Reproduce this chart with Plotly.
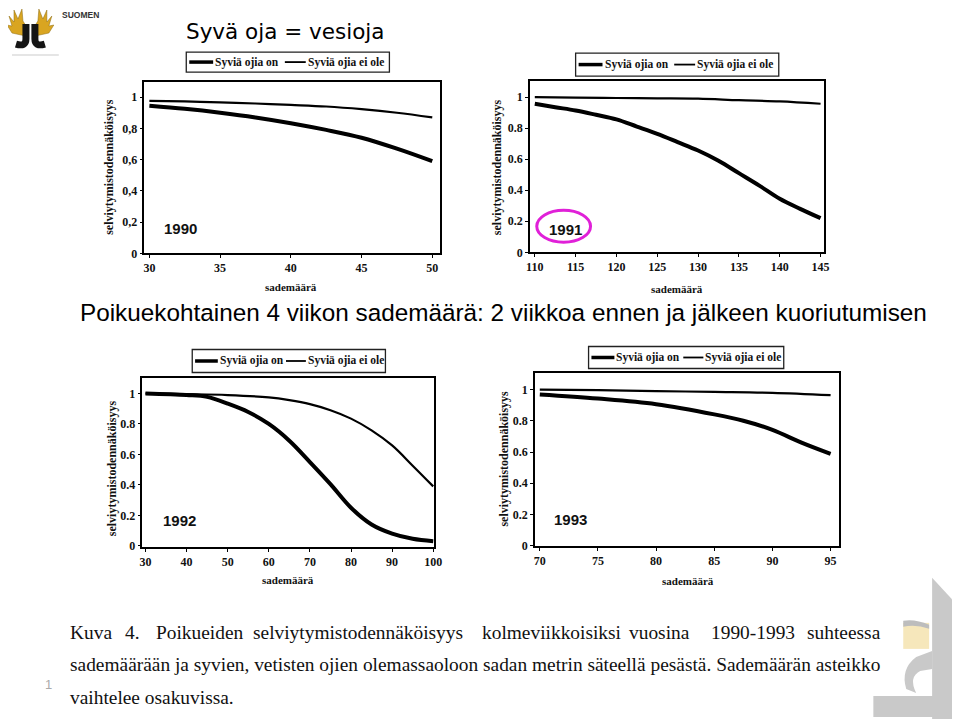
import plotly.graph_objects as go

W, H = 960, 719

# ---------------- data ----------------
legend_names = ["Syviä ojia on", "Syviä ojia ei ole"]
years = ["1990", "1991", "1992", "1993"]

x1990_on = [30, 32.5, 35, 37.5, 40, 42.5, 45, 47.5, 50]
y1990_on = [0.945, 0.925, 0.90, 0.87, 0.833, 0.79, 0.74, 0.67, 0.59]
x1990_ei = [30, 32.5, 35, 37.5, 40, 42.5, 45, 47.5, 50]
y1990_ei = [0.976, 0.972, 0.966, 0.959, 0.95, 0.94, 0.923, 0.90, 0.87]

x1991_on = [110, 112.5, 115, 117.5, 120, 122.5, 125, 127.5, 130, 132.5, 135, 137.5, 140, 142.5, 145]
y1991_on = [0.957, 0.935, 0.914, 0.886, 0.856, 0.81, 0.763, 0.71, 0.656, 0.59, 0.51, 0.43, 0.345, 0.28, 0.22]
x1991_ei = [110, 115, 120, 125, 130, 135, 140, 145]
y1991_ei = [1.0, 0.996, 0.994, 0.992, 0.99, 0.98, 0.972, 0.957]

x1992_on = [30, 40, 45, 50, 55, 60, 65, 70, 75, 80, 85, 90, 95, 100]
y1992_on = [1.0, 0.99, 0.978, 0.934, 0.879, 0.80, 0.69, 0.55, 0.405, 0.25, 0.14, 0.08, 0.046, 0.03]
x1992_ei = [30, 40, 50, 60, 65, 70, 75, 80, 85, 90, 95, 100]
y1992_ei = [1.0, 0.996, 0.99, 0.974, 0.956, 0.93, 0.89, 0.835, 0.758, 0.659, 0.526, 0.39]

x1993_on = [70, 75, 80, 85, 87.5, 90, 92.5, 95]
y1993_on = [0.968, 0.942, 0.906, 0.841, 0.80, 0.742, 0.66, 0.588]
x1993_ei = [70, 75, 80, 85, 90, 95]
y1993_ei = [1.0, 0.996, 0.99, 0.985, 0.979, 0.964]

y_ticks = [0, 0.2, 0.4, 0.6, 0.8, 1]
y_labels_comma = ["0", "0,2", "0,4", "0,6", "0,8", "1"]
y_labels_dot = ["0", "0.2", "0.4", "0.6", "0.8", "1"]
x_ticks_1990 = [30, 35, 40, 45, 50]
x_ticks_1991 = [110, 115, 120, 125, 130, 135, 140, 145]
x_ticks_1992 = [30, 40, 50, 60, 70, 80, 90, 100]
x_ticks_1993 = [70, 75, 80, 85, 90, 95]

x_title = "sademäärä"
y_title = "selviytymistodennäköisyys"
main_title = "Syvä oja = vesioja"
mid_text = "Poikuekohtainen 4 viikon sademäärä: 2 viikkoa ennen ja jälkeen kuoriutumisen"
caption_line1 = ["Kuva", "4.", "Poikueiden", "selviytymistodennäköisyys", "kolmeviikkoisiksi",
                 "vuosina", "1990-1993", "suhteessa"]
caption_line2 = "sademäärään ja syvien, vetisten ojien olemassaoloon sadan metrin säteellä pesästä. Sademäärän asteikko"
caption_line3 = "vaihtelee osakuvissa."

# --------------- helpers (page is drawn at an 8px offset) ---------------
OX, OY = 8, 8
EW, EH = W - OX, H - OY

def px(x):
    return (x - OX) / EW

def py(y):
    return 1 - (y - OY) / EH

def P(x, y):
    return f"{px(x):.5f},{py(y):.5f}"

SERIF = "Liberation Serif"
SANS = "Liberation Sans"

fig = go.Figure()

panels = [
    ("1990", x1990_on, y1990_on, x1990_ei, y1990_ei, (141, 438, 82, 253), [29.65, 50.56], [0, 1.096],
     x_ticks_1990, y_labels_comma, (183, 387, 52, 72), (288, 287), (106, 167), (32.2, 0.16)),
    ("1991", x1991_on, y1991_on, x1991_ei, y1991_ei, (528, 823, 81, 252), [109.39, 145.37], [0, 1.103],
     x_ticks_1991, y_labels_dot, (574, 778, 53, 76), (676, 289), (495, 167), (113.7, 0.148)),
    ("1992", x1992_on, y1992_on, x1992_ei, y1992_ei, (139, 432, 377, 546), [29.27, 100.24], [-0.0066, 1.105],
     x_ticks_1992, y_labels_dot, (189, 383, 349, 372), (285, 579), (108, 468), (38.2, 0.164)),
    ("1993", x1993_on, y1993_on, x1993_ei, y1993_ei, (533, 838, 372, 545), [69.57, 95.68], [0, 1.109],
     x_ticks_1993, y_labels_dot, (587, 783, 346, 368), (687, 580), (502, 458), (72.6, 0.167)),
]

annotations = []
shapes = []
layout_axes = {}

for i, (yr, xon, yon, xei, yei, fr, xr, yrg, xt, ylab, lbox, xtpos, ytpos, yrpos) in enumerate(panels):
    n = i + 1
    xa = "x" if n == 1 else f"x{n}"
    ya = "y" if n == 1 else f"y{n}"
    l, r, t, b = fr
    fig.add_trace(go.Scatter(x=xon, y=yon, mode="lines", name=legend_names[0],
                             line=dict(color="black", width=4, shape="spline"),
                             xaxis=xa, yaxis=ya, showlegend=False, hoverinfo="skip"))
    fig.add_trace(go.Scatter(x=xei, y=yei, mode="lines", name=legend_names[1],
                             line=dict(color="black", width=2.2, shape="spline"),
                             xaxis=xa, yaxis=ya, showlegend=False, hoverinfo="skip"))
    xk = "xaxis" if n == 1 else f"xaxis{n}"
    yk = "yaxis" if n == 1 else f"yaxis{n}"
    layout_axes[xk] = dict(domain=[px(l), px(r)], range=xr, anchor=ya, tickvals=xt,
                           showgrid=False, zeroline=False, showline=True, mirror=True,
                           linecolor="black", linewidth=1.5, ticks="outside", ticklen=3,
                           tickcolor="black",
                           tickfont=dict(family=SERIF, size=12, color="#111", weight="bold"))
    layout_axes[yk] = dict(domain=[py(b), py(t)], range=yrg, anchor=xa, tickvals=y_ticks,
                           ticktext=ylab, showgrid=False, zeroline=False, showline=True, mirror=True,
                           linecolor="black", linewidth=1.5, ticks="outside", ticklen=3,
                           tickcolor="black",
                           tickfont=dict(family=SERIF, size=12, color="#111", weight="bold"))
    # legend box drawn by hand (compact like the scanned original)
    bl, br, bt, bb = lbox
    bw = br - bl
    cy = (bt + bb) / 2
    shapes.append(dict(type="rect", xref="paper", yref="paper", x0=px(bl), x1=px(br), y0=py(bb), y1=py(bt),
                       line=dict(color="#222", width=1.3), fillcolor="white"))
    s = bw / 204.0
    shapes.append(dict(type="line", xref="paper", yref="paper", x0=px(bl + 3 * s), x1=px(bl + 27 * s),
                       y0=py(cy), y1=py(cy), line=dict(color="black", width=3.5)))
    shapes.append(dict(type="line", xref="paper", yref="paper", x0=px(bl + 99 * s), x1=px(bl + 120 * s),
                       y0=py(cy), y1=py(cy), line=dict(color="black", width=1.8)))
    annotations.append(dict(text=legend_names[0], x=px(bl + 27 * s), y=py(cy), xref="paper", yref="paper",
                            showarrow=False, xanchor="left", yanchor="middle",
                            font=dict(family=SERIF, size=11.5, color="#111", weight="bold")))
    annotations.append(dict(text=legend_names[1], x=px(bl + 120 * s), y=py(cy), xref="paper", yref="paper",
                            showarrow=False, xanchor="left", yanchor="middle",
                            font=dict(family=SERIF, size=11.5, color="#111", weight="bold")))
    annotations.append(dict(text=x_title, x=px(xtpos[0]), y=py(xtpos[1]), xref="paper", yref="paper",
                            showarrow=False, xanchor="center", yanchor="middle",
                            font=dict(family=SERIF, size=11, color="#111", weight="bold")))
    annotations.append(dict(text=y_title, x=px(ytpos[0]), y=py(ytpos[1]), xref="paper", yref="paper",
                            showarrow=False, xanchor="center", yanchor="middle", textangle=-90,
                            font=dict(family=SERIF, size=12, color="#111", weight="bold")))
    annotations.append(dict(text=yr, x=yrpos[0], y=yrpos[1], xref=xa, yref=ya,
                            showarrow=False, xanchor="center", yanchor="middle",
                            font=dict(family=SANS, size=15, color="#111", weight="bold")))

# magenta ellipse around 1991
shapes.append(dict(type="circle", xref="x2", yref="y2", x0=110.24, x1=116.83, y0=0.065, y1=0.271,
                   line=dict(color="#e020d8", width=3)))

# titles
annotations.append(dict(text=main_title, x=px(283), y=py(31), xref="paper", yref="paper",
                        showarrow=False, xanchor="center", yanchor="middle",
                        font=dict(family="DejaVu Sans", size=21.5, color="black")))
annotations.append(dict(text="SUOMEN", x=px(56), y=py(15), xref="paper", yref="paper",
                        showarrow=False, xanchor="left", yanchor="middle",
                        font=dict(family=SANS, size=8.5, color="#333", weight="bold")))
annotations.append(dict(text=mid_text, x=px(502), y=py(312), xref="paper", yref="paper",
                        showarrow=False, xanchor="center", yanchor="middle",
                        font=dict(family=SANS, size=24.3, color="black")))

# caption (line 1 justified: word positions)
CAP = 19.4
line1_x = [64, 119, 151, 248, 478, 626, 708, 804]
for w, xx in zip(caption_line1, line1_x):
    annotations.append(dict(text=w, x=px(xx), y=py(632), xref="paper", yref="paper",
                            showarrow=False, xanchor="left", yanchor="middle",
                            font=dict(family=SERIF, size=CAP, color="#111")))
annotations.append(dict(text=caption_line2, x=px(64), y=py(664), xref="paper", yref="paper",
                        showarrow=False, xanchor="left", yanchor="middle",
                        font=dict(family=SERIF, size=CAP, color="#111")))
annotations.append(dict(text=caption_line3, x=px(64), y=py(697), xref="paper", yref="paper",
                        showarrow=False, xanchor="left", yanchor="middle",
                        font=dict(family=SERIF, size=CAP, color="#111")))
annotations.append(dict(text="1", x=px(45), y=py(684), xref="paper", yref="paper",
                        showarrow=False, xanchor="center", yanchor="middle",
                        font=dict(family=SANS, size=13, color="#aaa")))

# logo (decorative)
gold = "#d9a521"
left_antler = [(22, 36), (8, 33), (3, 25), (8, 26), (5, 16), (10, 22), (10, 10), (14, 19), (18, 9), (19, 21), (24, 29)]
right_antler = [(53 - x, y) for x, y in left_antler]
for poly in (left_antler, right_antler):
    path = "M " + " L ".join(P(x, y) for x, y in poly) + " Z"
    shapes.append(dict(type="path", xref="paper", yref="paper", path=path,
                       fillcolor=gold, line=dict(color="#8a6a10", width=0.5)))
shapes.append(dict(type="path", xref="paper", yref="paper",
                   path=f"M {P(22,24)} L {P(22,39)} Q {P(22,47)} {P(12,44)}",
                   line=dict(color="#151515", width=7)))
shapes.append(dict(type="path", xref="paper", yref="paper",
                   path=f"M {P(31,24)} L {P(31,39)} Q {P(31,47)} {P(41,44)}",
                   line=dict(color="#151515", width=7)))
shapes.append(dict(type="line", xref="paper", yref="paper", x0=px(8), x1=px(55), y0=py(55), y1=py(55),
                   line=dict(color="#dddddd", width=1.5)))

# right-bottom decorative shape
grey = "#c9c9c9"
shapes.append(dict(type="path", xref="paper", yref="paper",
                   path=f"M {P(932,577)} L {P(960,607)} L {P(960,719)} L {P(932,719)} Z",
                   fillcolor=grey, line=dict(width=0)))
shapes.append(dict(type="rect", xref="paper", yref="paper", x0=px(873), x1=px(960), y0=py(716), y1=py(695),
                   fillcolor=grey, line=dict(width=0)))
shapes.append(dict(type="path", xref="paper", yref="paper",
                   path=f"M {P(932,650)} L {P(916,656)} Q {P(900,668)} {P(906,688)} L {P(916,692)} "
                        f"Q {P(908,676)} {P(920,670)} L {P(932,668)} Z",
                   fillcolor=grey, line=dict(width=0)))
shapes.append(dict(type="rect", xref="paper", yref="paper", x0=px(903), x1=px(929), y0=py(648), y1=py(622),
                   fillcolor="#f6e7bb", line=dict(width=0)))
shapes.append(dict(type="path", xref="paper", yref="paper",
                   path=f"M {P(903,620)} Q {P(915,618)} {P(929,624)} L {P(929,628)} Q {P(915,623)} {P(903,626)} Z",
                   fillcolor="#bdbdbd", line=dict(width=0)))

fig.update_layout(width=W, height=H, margin=dict(l=0, r=0, t=0, b=0),
                  paper_bgcolor="white", plot_bgcolor="white",
                  showlegend=False, annotations=annotations, shapes=shapes, **layout_axes)

fig.write_html("out.html")
